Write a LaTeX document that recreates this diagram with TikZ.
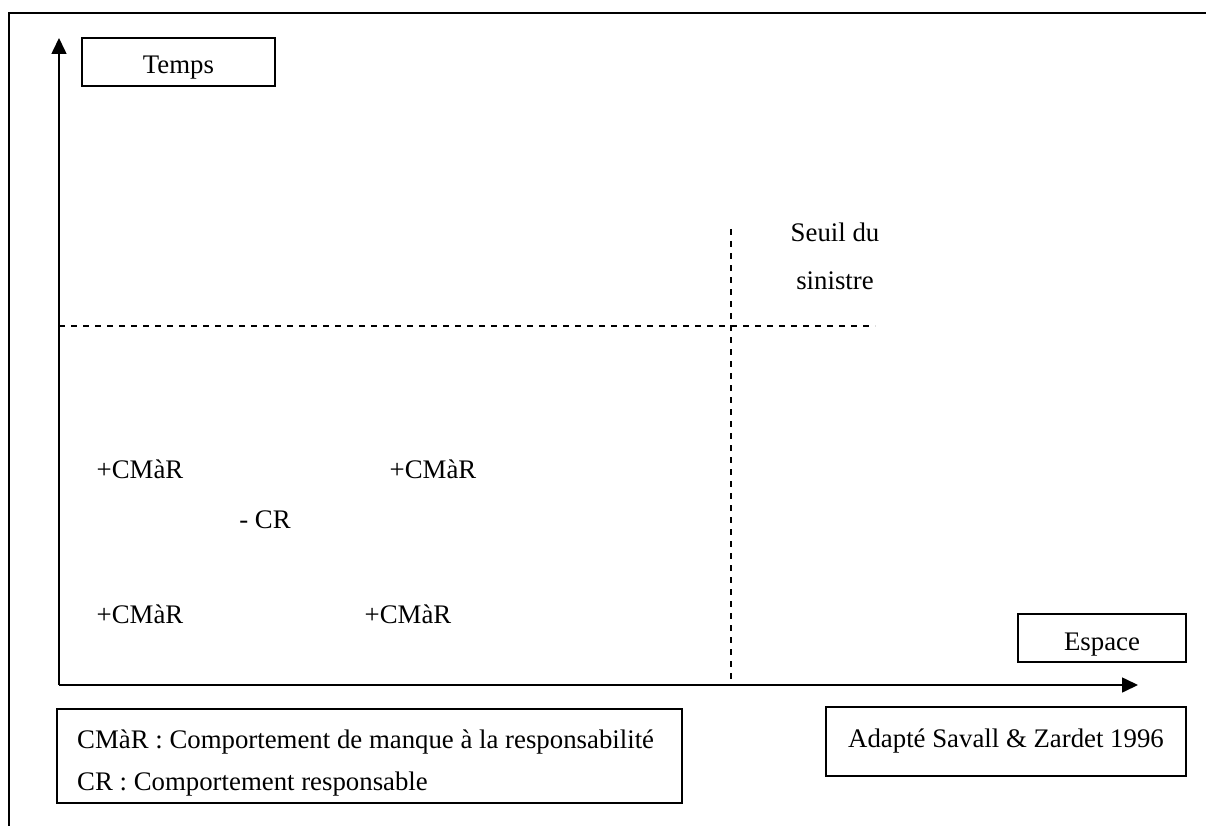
\documentclass[tikz,border=0pt]{standalone}
\usepackage{fontspec}
\setmainfont{Liberation Serif}
\usetikzlibrary{arrows.meta}
\newcommand{\lowtext}[1]{\smash{\raisebox{-12pt}{#1}}}
\begin{document}
\begin{tikzpicture}[x=1pt,y=-1pt,
  txt/.style={font=\fontsize{26.8}{32}\selectfont, inner sep=0pt},
  labelbox/.style={draw, line width=1.5pt, txt},
  axis/.style={line width=1.6pt, -{Triangle[length=16pt,width=15pt]}},
  guide/.style={line width=1.3pt, dash pattern=on 6pt off 6pt}]
  % page extent
  \useasboundingbox (0,0) rectangle (1206,826);
  % outer frame (top and left edges)
  \draw[line width=2.2pt] (9,826) -- (9,13) -- (1206,13);

  % axes
  \coordinate (O) at (59,685);
  \coordinate (ytop) at (59,38);
  \coordinate (xend) at (1138,685);
  \draw[axis] (O) -- (ytop);
  \draw[axis] (O) -- (xend);

  % axis labels (text sits low in its box)
  \node[labelbox, minimum width=193pt, minimum height=48pt] (temps) at (178.5,62) {\lowtext{Temps}};
  \node[labelbox, minimum width=168pt, minimum height=48pt] (espace) at (1102,638) {\lowtext{Espace}};

  % threshold lines
  \coordinate (hs) at (59,326);
  \coordinate (he) at (875,326);
  \coordinate (vs) at (731,229);
  \coordinate (ve) at (731,685);
  \draw[guide] (hs) -- (he);
  \draw[guide] (vs) -- (ve);
  \node[txt, align=center] (seuil) at (835,256) {Seuil du\\[16pt]sinistre};

  % behaviours
  \node[txt] (c1) at (140,469) {+CMàR};
  \node[txt] (c2) at (433,469) {+CMàR};
  \node[txt] (cr) at (265,520) {- CR};
  \node[txt] (c3) at (140,614) {+CMàR};
  \node[txt] (c4) at (408,614) {+CMàR};

  % legend
  \node[draw, line width=1.5pt, minimum width=625pt, minimum height=94pt] (legend) at (369.5,756) {};
  \node[txt, anchor=west] (l1) at (77,742) {CMàR : Comportement de manque à la responsabilité};
  \node[txt, anchor=west] (l2) at (77,784) {CR : Comportement responsable};

  % source
  \node[labelbox, minimum width=360pt, minimum height=69pt] (source) at (1006,741.5) {Adapté Savall \& Zardet 1996};
\end{tikzpicture}
\end{document}
